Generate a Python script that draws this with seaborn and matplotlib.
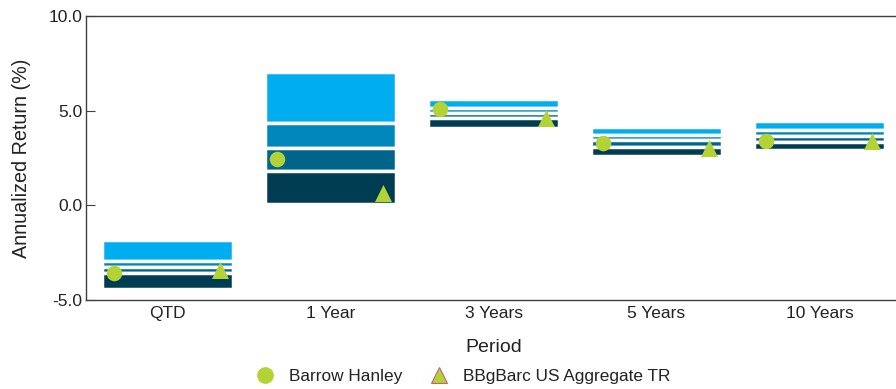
import numpy as np
import pandas as pd
import matplotlib
matplotlib.use("Agg")
import matplotlib.pyplot as plt
from matplotlib.lines import Line2D
import seaborn as sns

periods = ["QTD", "1 Year", "3 Years", "5 Years", "10 Years"]
# percentile band boundaries (top -> bottom)
p05 = [-1.82, 7.02, 5.64, 4.16, 4.43]
p25 = [-2.95, 4.34, 5.14, 3.74, 3.98]
p50 = [-3.27, 3.02, 4.87, 3.44, 3.68]
p75 = [-3.57, 1.83, 4.60, 3.08, 3.36]
p95 = [-4.40, 0.07, 4.06, 2.58, 2.90]
barrow_hanley = [-3.59, 2.43, 5.08, 3.31, 3.42]
bbgbarc_agg = [-3.44, 0.66, 4.60, 3.04, 3.39]
yticks = [-5.0, 0.0, 5.0, 10.0]

band_colors = ["#00AEEF", "#0088BD", "#00658A", "#003D53"]
green = "#B2D235"

sns.set_style("white")
plt.rcParams["font.family"] = ["Liberation Sans", "DejaVu Sans"]

fig = plt.figure(figsize=(8.96, 3.89), dpi=100)
ax = fig.add_axes([86 / 896, 1 - 300 / 389, 815 / 896, (300 - 16) / 389])

tops = [p05, p25, p50, p75]
bots = [p25, p50, p75, p95]
for top, bot, col in zip(tops, bots, band_colors):
    df = pd.DataFrame({"period": periods,
                       "h": np.array(top) - np.array(bot)})
    sns.barplot(data=df, x="period", y="h", order=periods, color=col,
                width=0.80, bottom=np.array(bot), edgecolor="white",
                linewidth=2.5, saturation=1, ax=ax, errorbar=None, zorder=2)

xs = np.arange(len(periods))
dfm = pd.DataFrame({"x": np.concatenate([xs - 0.33, xs + 0.32]),
                    "y": barrow_hanley + bbgbarc_agg,
                    "s": ["Barrow Hanley"] * 5 + ["BBgBarc US Aggregate TR"] * 5})
sns.scatterplot(data=dfm[dfm.s == "Barrow Hanley"], x="x", y="y", marker="o",
                s=125, color=green, edgecolor=green, linewidth=0, ax=ax,
                zorder=5, legend=False)
sns.scatterplot(data=dfm[dfm.s != "Barrow Hanley"], x="x", y="y", marker="^",
                s=150, color=green, edgecolor=green, linewidth=0, ax=ax,
                zorder=5, legend=False)

ax.set_xlim(-0.5, 4.5)
ax.set_ylim(-5, 10)
ax.set_yticks(yticks)
ax.set_yticklabels([f"{v:.1f}" for v in yticks])
ax.set_xticks(xs)
ax.set_xticklabels(periods)
ax.tick_params(axis="y", which="both", left=True, direction="in", length=6.5,
               width=0.8, color="#404040", labelsize=12.5, labelcolor="#222222",
               pad=2.5)
ax.tick_params(axis="x", bottom=False, length=0, labelsize=12.5,
               labelcolor="#222222", pad=4)
for side in ["left", "bottom", "top"]:
    ax.spines[side].set_color("#404040")
    ax.spines[side].set_linewidth(1.0)
ax.spines["right"].set_visible(False)
ax.set_xlabel("Period", fontsize=14, color="#222222", labelpad=13)
ax.set_ylabel("Annualized Return (%)", fontsize=14.2, color="#222222", labelpad=13)

handles = [
    Line2D([], [], marker="o", linestyle="", markersize=11, markerfacecolor=green,
           markeredgecolor=green),
    Line2D([], [], marker="^", linestyle="", markersize=11, markerfacecolor=green,
           markeredgecolor="#C8627A", markeredgewidth=0.8),
]
fig.legend(handles, ["Barrow Hanley", "BBgBarc US Aggregate TR"], loc="center",
           bbox_to_anchor=(0.517, 0.031), ncol=2, frameon=False, fontsize=12.4,
           handlelength=1.0, handletextpad=0.9, columnspacing=1.6,
           labelcolor="#222222")

fig.savefig("out.png", dpi=100)
